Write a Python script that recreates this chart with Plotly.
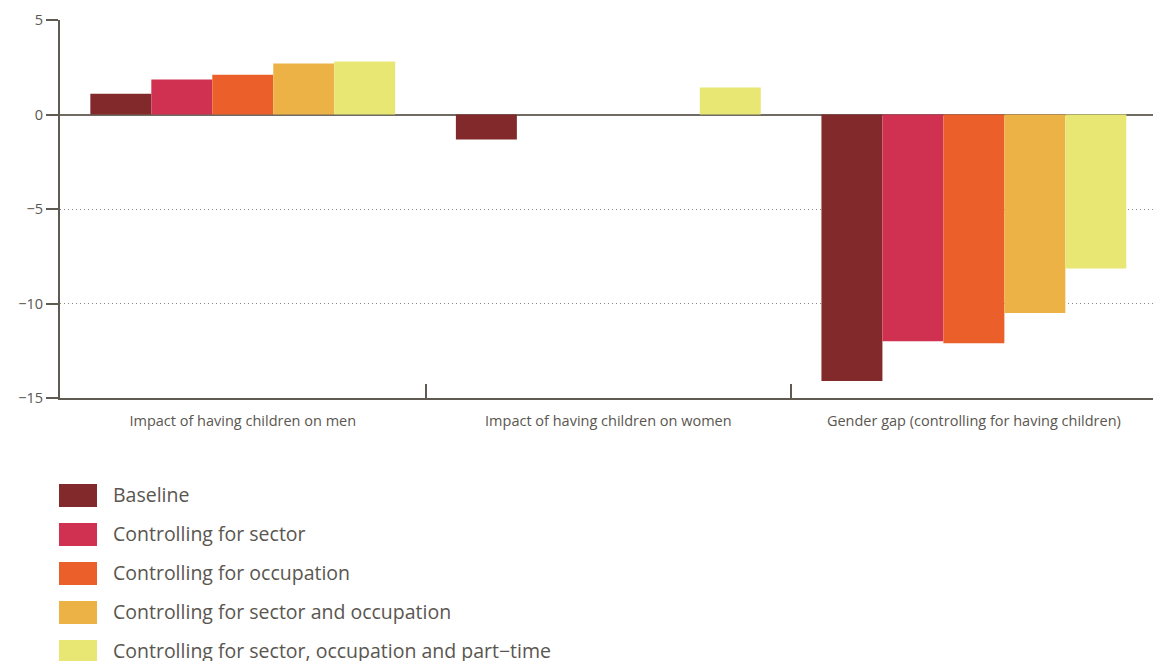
import plotly.graph_objects as go

categories = [
    "Impact of having children on men",
    "Impact of having children on women",
    "Gender gap (controlling for having children)",
]
series_names = [
    "Baseline",
    "Controlling for sector",
    "Controlling for occupation",
    "Controlling for sector and occupation",
    "Controlling for sector, occupation and part\u2212time",
]
baseline = [1.1, -1.32, -14.1]
sector = [1.85, 0, -12.0]
occupation = [2.1, 0, -12.1]
sector_occupation = [2.7, 0, -10.5]
sector_occupation_parttime = [2.8, 1.43, -8.15]
y_ticks = [5, 0, -5, -10, -15]

series_values = [baseline, sector, occupation, sector_occupation, sector_occupation_parttime]
colors = ["#822A2B", "#D13150", "#EB602A", "#EDB246", "#E8E774"]

W, H = 1153, 661
ML, MT, MR, MB = 60, 20, 0, 263
TEXT = "#5a5650"
AXIS = "#5f5a52"
FONT = "Open Sans"

fig = go.Figure()
for name, vals, col in zip(series_names, series_values, colors):
    fig.add_trace(go.Bar(x=categories, y=vals, name=name, marker_color=col,
                         marker_line_width=0, showlegend=False))

fig.update_layout(
    width=W, height=H,
    margin=dict(l=ML, r=MR, t=MT, b=MB),
    barmode="group", bargap=0.166, bargroupgap=0,
    plot_bgcolor="white", paper_bgcolor="white",
    font=dict(family=FONT, color=TEXT),
)
fig.update_xaxes(
    range=[-0.5, 2.49],
    showline=True, linecolor=AXIS, linewidth=2,
    ticks="inside", tickson="boundaries", ticklen=14, tickwidth=2, tickcolor=AXIS,
    showgrid=False, tickfont=dict(size=14.5, color=TEXT),
    ticklabelstandoff=9,
)
fig.update_yaxes(
    range=[-15, 5], tickvals=y_ticks,
    showline=True, linecolor=AXIS, linewidth=2,
    ticks="outside", ticklen=12, tickwidth=2, tickcolor=AXIS,
    showgrid=True, gridcolor="#8a8a8a", griddash="1px,3px", gridwidth=1,
    zeroline=True, zerolinecolor="#6f6a62", zerolinewidth=2,
    tickfont=dict(size=14.5, color=TEXT),
)

# legend drawn below the plot area, in pixel positions converted to paper coordinates
pw = W - ML - MR
ph = H - MT - MB

def px_x(x):
    return (x - ML) / pw

def px_y(y):
    return (H - MB - y) / ph

for i, (name, col) in enumerate(zip(series_names, colors)):
    top = 484 + 39 * i
    fig.add_shape(type="rect", xref="paper", yref="paper",
                  x0=px_x(59), x1=px_x(97), y0=px_y(top + 23), y1=px_y(top),
                  fillcolor=col, line_width=0)
    fig.add_annotation(xref="paper", yref="paper", x=px_x(111), y=px_y(top + 10.5),
                       text=name, showarrow=False, xanchor="left", yanchor="middle",
                       font=dict(size=19.5, color=TEXT, family=FONT))

fig.write_html("out.html")
